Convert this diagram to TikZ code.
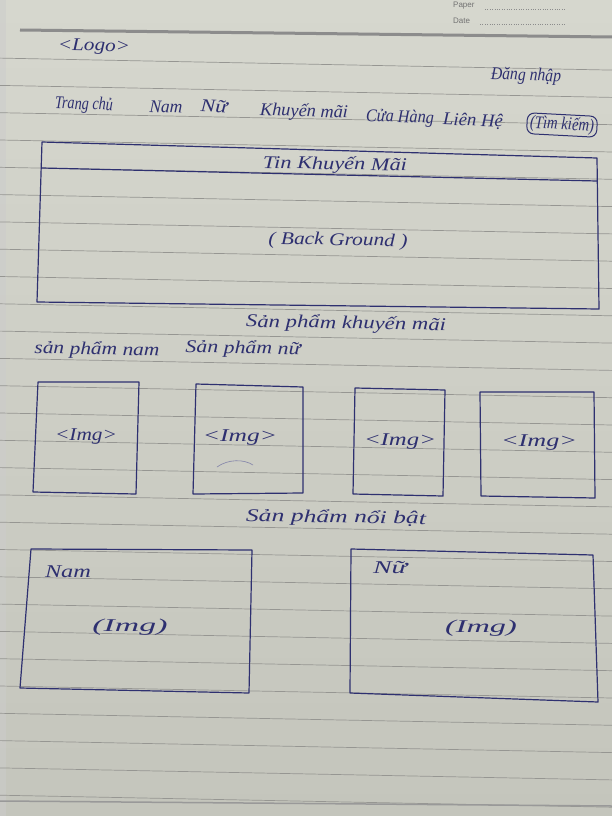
\documentclass[tikz,border=0pt]{standalone}
\usepackage{fontspec}
\usepackage{graphicx}
\setmainfont{Liberation Serif}
\newfontfamily\printfont{Liberation Sans}
\definecolor{inkc}{RGB}{46,48,112}
\definecolor{rulec}{RGB}{150,150,146}
\definecolor{papertop}{RGB}{214,215,206}
\definecolor{paperbot}{RGB}{196,197,188}
% stretch handwritten words to a given width, keeping their height
\newcommand\hw[2]{\resizebox{#1pt}{\height}{#2}}
\tikzset{
  x=1pt, y=-1pt,
  pen/.style={draw=inkc, line width=1.2pt, line join=round, line cap=round},
  hand/.style={text=inkc, font=\itshape\fontsize{18}{18}\selectfont, inner sep=0pt},
  rule/.style={draw=rulec, line width=0.7pt},
  printed/.style={text=black!55, font=\printfont\fontsize{8}{8}\selectfont, inner sep=0pt, anchor=west},
}
\begin{document}
\begin{tikzpicture}
  % sheet of ruled paper
  \useasboundingbox (0,0) rectangle (612,816);
  \shade[top color=papertop, bottom color=paperbot] (0,0) rectangle (612,816);
  \fill[black!20, opacity=0.5] (0,0) rectangle (6,816);
  \draw[black!45, line width=3pt] (20,30) -- (612,37);
  \foreach \i in {-3,...,24} {
    \draw[rule] (0,{140+27.3*\i}) -- (612,{152+27.3*\i});
  }
  \draw[black!40, line width=1.5pt] (0,801) -- (612,806);
  \node[printed] (paper) at (453,6) {Paper};
  \node[printed] (date) at (453,21) {Date};
  \draw[black!45, dotted] (485,9) -- (566,9);
  \draw[black!45, dotted] (480,24) -- (566,24);

  % header: logo, login and navigation
  \node[hand, rotate=-1] (logo) at (94,47) {\hw{72}{<Logo>}};
  \node[hand, rotate=-2] (login) at (526,76) {\hw{70}{Đăng nhập}};
  \node[hand, rotate=-2] (home) at (84,105) {\hw{58}{Trang chủ}};
  \node[hand, rotate=-2] (men) at (166,107) {\hw{33}{Nam}};
  \node[hand, rotate=-2] (women) at (214,106) {\hw{27}{Nữ}};
  \node[hand, rotate=-2] (sale) at (304,112) {\hw{88}{Khuyến mãi}};
  \node[hand, rotate=-2] (shop) at (400,118) {\hw{68}{Cửa Hàng}};
  \node[hand, rotate=-2] (contact) at (473,121) {\hw{60}{Liên Hệ}};
  \node[hand, rotate=-3, draw=inkc, line width=1pt, rounded corners=7pt,
        inner xsep=3pt, inner ysep=2pt] (search) at (562,125) {\hw{64}{(Tìm kiếm)}};

  % promotion banner
  \coordinate (b1) at (42,142); \coordinate (b2) at (597,158);
  \coordinate (b3) at (599,309); \coordinate (b4) at (37,302);
  \coordinate (d1) at (42,168); \coordinate (d2) at (597,181);
  \draw[pen] (b1) -- (b2) -- (b3) -- (b4) -- cycle;
  \draw[pen] (d1) -- (d2);
  \node[hand, rotate=-1] (bannertitle) at (335,165) {\hw{144}{Tin Khuyến Mãi}};
  \node[hand, rotate=-1] (bannerbg) at (338,241) {\hw{139}{( Back Ground )}};

  % promoted products
  \node[hand, rotate=-1] (saletitle) at (346,324) {\hw{200}{Sản phẩm khuyến mãi}};
  \node[hand, rotate=-1] (tabmen) at (97,350) {\hw{125}{sản phẩm nam}};
  \node[hand, rotate=-1] (tabwomen) at (243,349) {\hw{115}{Sản phẩm nữ}};

  \draw[pen] (38,382) -- (139,382) -- (136,494) -- (33,492) -- cycle;
  \draw[pen] (196,384) -- (303,387) -- (303,493) -- (193,494) -- cycle;
  \draw[pen] (355,388) -- (445,390) -- (443,496) -- (353,494) -- cycle;
  \draw[pen] (480,392) -- (594,392) -- (595,498) -- (481,496) -- cycle;
  \node[hand] (img1) at (86,437) {\hw{62}{<Img>}};
  \node[hand] (img2) at (240,438) {\hw{74}{<Img>}};
  \node[hand] (img3) at (400,442) {\hw{72}{<Img>}};
  \node[hand] (img4) at (539,443) {\hw{76}{<Img>}};
  \draw[inkc!60, line width=0.6pt] (217,467) .. controls (228,459) and (244,459) .. (253,465);

  % featured products
  \node[hand, rotate=-1] (featured) at (336,518) {\hw{180}{Sản phẩm nổi bật}};
  \draw[pen] (31,549) -- (252,550) -- (249,693) -- (20,688) -- cycle;
  \draw[pen] (351,549) -- (593,555) -- (598,702) -- (350,693) -- cycle;
  \node[hand] (featmen) at (68,572) {\hw{46}{Nam}};
  \node[hand] (featmenimg) at (130,627) {\hw{75}{(Img)}};
  \node[hand] (featwomen) at (390,568) {\hw{34}{Nữ}};
  \node[hand] (featwomenimg) at (481,628) {\hw{72}{(Img)}};
\end{tikzpicture}
\end{document}
